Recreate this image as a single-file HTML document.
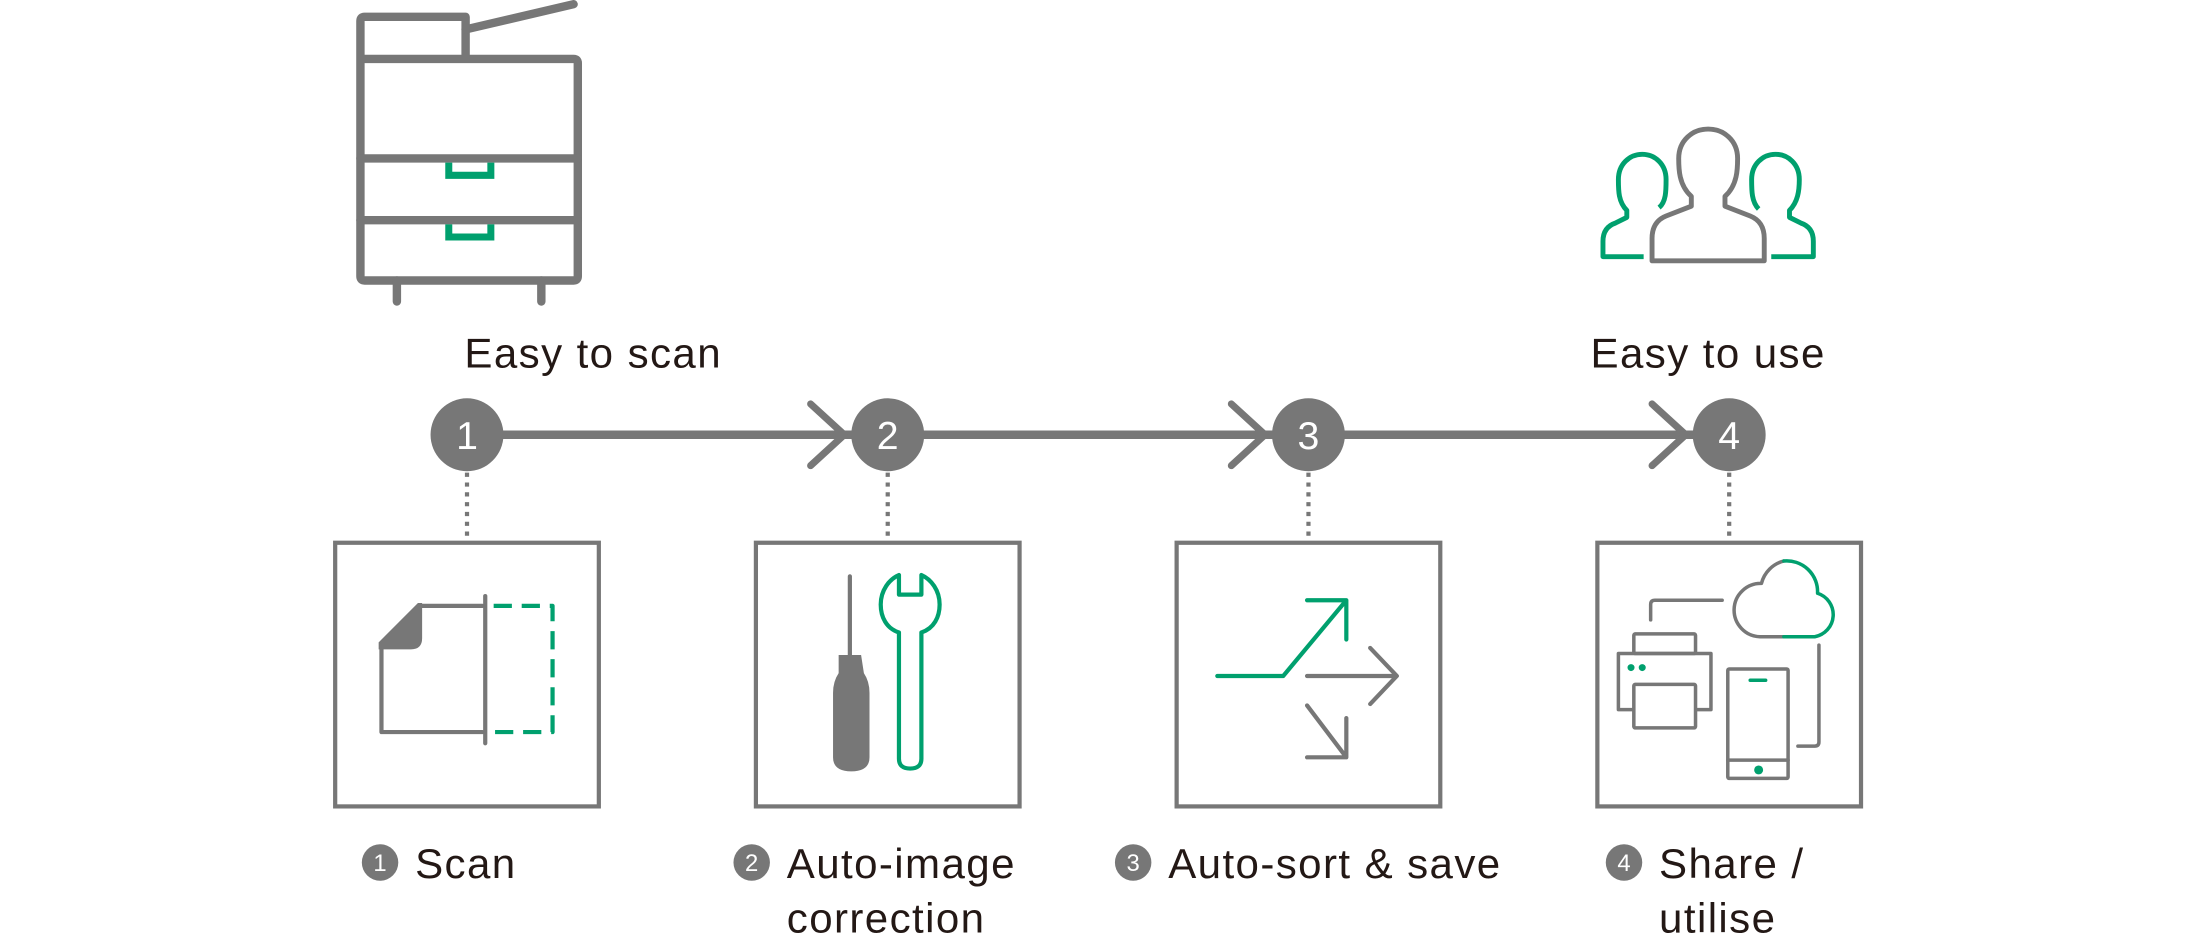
<!DOCTYPE html>
<html><head><meta charset="utf-8"><style>
html,body{margin:0;padding:0;background:#fff;}
svg{display:block}
text{font-family:"Liberation Sans",sans-serif;}
</style></head><body>
<svg width="2199" height="936" viewBox="0 0 1568 667.4" preserveAspectRatio="none" xmlns="http://www.w3.org/2000/svg">
<g fill="none" stroke="#777" stroke-linecap="round" stroke-linejoin="round">
 <!-- printer -->
 <g stroke-width="6">
  <path d="M332,42 V12 H260 Q257,12 257,15 V197 Q257,200 260,200 H409 Q412,200 412,197 V45 Q412,42 409,42 H257"/>
  <line x1="332" y1="21" x2="409" y2="3"/>
  <line x1="257" y1="113" x2="412" y2="113"/>
  <line x1="257" y1="157" x2="412" y2="157"/>
  <line x1="283" y1="200" x2="283" y2="215"/>
  <line x1="386" y1="200" x2="386" y2="215"/>
 </g>
 <g stroke="#00a06e" stroke-width="5" stroke-linecap="butt" stroke-linejoin="miter">
  <path d="M320,116 V125 H350 V116"/>
  <path d="M320,160 V169 H350 V160"/>
 </g>
 <!-- users -->
 <path stroke-width="3.5" d="M1206,140 C1197,132 1197,120 1197,113 C1197,100 1207,92 1218,92 C1229,92 1239,100 1239,113 C1239,120 1239,132 1230,140 V147 L1248,154 Q1258,158 1258,170 V186 H1178 V170 Q1178,158 1188,154 L1206,147 Z"/>
 <g stroke="#00a06e" stroke-width="3.5" stroke-linecap="butt">
  <path d="M1172,183 H1143 V172 Q1143,162 1152,159 L1160,155 V150 C1154,144 1154,136 1154,128 C1154,117 1162,110 1171,110 C1180,110 1188,117 1188,128 C1188,136 1188,144 1183,148"/>
  <path d="M1263,183 H1293 V172 Q1293,162 1284,159 L1276,155 V150 C1282,144 1283,136 1283,128 C1283,117 1275,110 1266,110 C1257,110 1249,117 1249,128 C1249,136 1249,144 1254,149"/>
 </g>
 <!-- main line -->
 <line x1="333" y1="310" x2="1225" y2="310" stroke-width="6" stroke-linecap="butt"/>
 <g stroke-width="5">
  <path d="M578,288 L602,310 L578,332"/>
  <path d="M878,288 L902,310 L878,332"/>
  <path d="M1178,288 L1202,310 L1178,332"/>
 </g>
 <!-- dotted -->
 <g stroke-width="3" stroke-dasharray="3 4" stroke-linecap="butt">
  <line x1="333" y1="337" x2="333" y2="385"/>
  <line x1="633" y1="337" x2="633" y2="385"/>
  <line x1="933" y1="337" x2="933" y2="385"/>
  <line x1="1233" y1="337" x2="1233" y2="385"/>
 </g>
 <!-- boxes -->
 <g stroke-width="3" stroke-linejoin="miter">
  <rect x="239" y="387" width="188" height="188"/>
  <rect x="539" y="387" width="188" height="188"/>
  <rect x="839" y="387" width="188" height="188"/>
  <rect x="1139" y="387" width="188" height="188"/>
 </g>
 <!-- box1 icon -->
 <path stroke-width="3" d="M300,432 H344 M272,462 V522 H344"/>
 <path fill="#777" stroke="none" d="M270,458 L298,430 H301 V455 Q301,463 293,463 H270 Z"/>
 <line x1="346" y1="425" x2="346" y2="530" stroke-width="3"/>
 <path stroke="#00a06e" stroke-width="3" stroke-linecap="butt" stroke-dasharray="13 7" d="M352,432 H394 V522 H352"/>
 <!-- box2 icon -->
 <line x1="606" y1="411" x2="606" y2="468" stroke-width="3"/>
 <path fill="#777" stroke="none" d="M598,467 H614 L616,480 Q620,486 620,494 V540 Q620,550 607,550 Q594,550 594,540 V494 Q594,486 598,480 Z"/>
 <path stroke="#00a06e" stroke-width="3" d="M641,451 C632,448 628,440 628,431 C628,421 634,413 641,410 V424 H657 V410 C664,413 670,421 670,431 C670,440 666,448 657,451 V541 Q657,548 649,548 Q641,548 641,541 Z"/>
 <!-- box3 icon -->
 <path stroke="#00a06e" stroke-width="3" d="M868,482 H915 L960,428 M932,428 H960 V456"/>
 <g stroke-width="3">
  <path d="M932,482 H996 M977,462 L996,482 L977,502"/>
  <path d="M932,503 L960,540 M932,540 H960 V512"/>
 </g>
 <!-- box4 icon -->
 <g stroke-width="2.5">
  <rect x="1165" y="452" width="44" height="14" rx="1"/>
  <path d="M1164,506 H1154 V466 H1220 V506 H1210"/>
  <rect x="1165" y="488" width="44" height="31" rx="1"/>
  <rect x="1232" y="477" width="43" height="78" rx="1"/>
  <line x1="1232" y1="542" x2="1275" y2="542"/>
  <path d="M1177,442 V431 Q1177,428 1180,428 H1228"/>
  <path d="M1297,460 V529 Q1297,532 1294,532 H1282"/>
  <path d="M1272,454 H1255 A19,19 0 0 1 1256,416 A22,22 0 0 1 1272,400"/>
 </g>
 <g stroke="#00a06e" stroke-width="2.5">
  <path d="M1272,400 A22,22 0 0 1 1296,423 A16,16 0 0 1 1294,454 H1272"/>
  <line x1="1248" y1="485" x2="1259" y2="485"/>
 </g>
 <g fill="#00a06e" stroke="none">
  <circle cx="1163" cy="476" r="2.5"/><circle cx="1171" cy="476" r="2.5"/>
  <circle cx="1254" cy="549" r="3.2"/>
 </g>
</g>
<!-- number circles -->
<g fill="#777">
 <circle cx="333" cy="310" r="26"/><circle cx="633" cy="310" r="26"/>
 <circle cx="933" cy="310" r="26"/><circle cx="1233" cy="310" r="26"/>
 <circle cx="271" cy="615" r="13"/><circle cx="536" cy="615" r="13"/>
 <circle cx="808" cy="615" r="13"/><circle cx="1158" cy="615" r="13"/>
</g>
<g fill="#fff" font-size="28" text-anchor="middle">
 <text x="333" y="320">1</text><text x="633" y="320">2</text>
 <text x="933" y="320">3</text><text x="1233" y="320">4</text>
</g>
<g fill="#fff" font-size="17" text-anchor="middle">
 <text x="271" y="621">1</text><text x="536" y="621">2</text>
 <text x="808" y="621">3</text><text x="1158" y="621">4</text>
</g>
<g fill="#231815" font-size="30" letter-spacing="1">
 <text x="423" y="262" text-anchor="middle">Easy to scan</text>
 <text x="1218" y="262" text-anchor="middle">Easy to use</text>
 <text x="296" y="626">Scan</text>
 <text x="561" y="626">Auto-image</text>
 <text x="561" y="665">correction</text>
 <text x="833" y="626">Auto-sort &amp; save</text>
 <text x="1183" y="626">Share /</text>
 <text x="1183" y="665">utilise</text>
</g>
</svg>
</body></html>
